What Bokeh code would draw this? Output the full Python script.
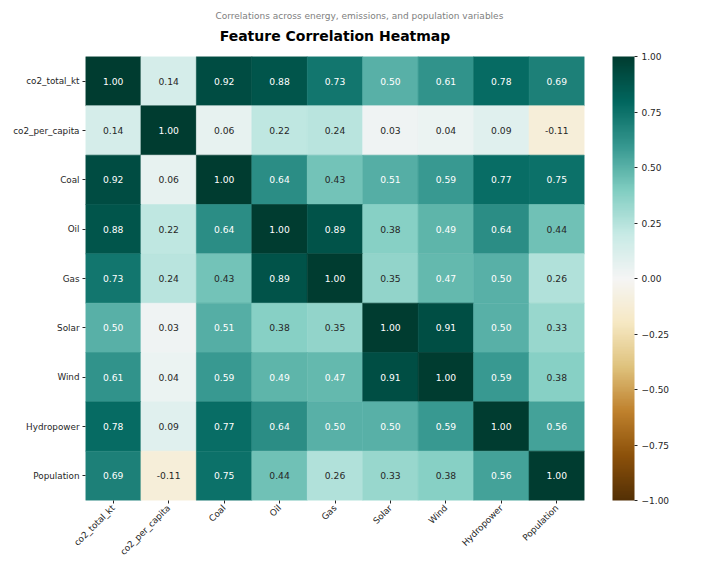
import math
from bokeh.plotting import figure
from bokeh.models import (ColumnDataSource, LinearColorMapper, ColorBar, FixedTicker,
                          CustomJSTickFormatter, Title)
from bokeh.transform import transform
from bokeh.core.properties import value
from bokeh.embed import file_html
from bokeh.resources import INLINE

# ---------------- data ----------------
features = ["co2_total_kt", "co2_per_capita", "Coal", "Oil", "Gas",
            "Solar", "Wind", "Hydropower", "Population"]

row_co2_total_kt   = [1.00, 0.14, 0.92, 0.88, 0.73, 0.50, 0.61, 0.78, 0.69]
row_co2_per_capita = [0.14, 1.00, 0.06, 0.22, 0.24, 0.03, 0.04, 0.09, -0.11]
row_coal           = [0.92, 0.06, 1.00, 0.64, 0.43, 0.51, 0.59, 0.77, 0.75]
row_oil            = [0.88, 0.22, 0.64, 1.00, 0.89, 0.38, 0.49, 0.64, 0.44]
row_gas            = [0.73, 0.24, 0.43, 0.89, 1.00, 0.35, 0.47, 0.50, 0.26]
row_solar          = [0.50, 0.03, 0.51, 0.38, 0.35, 1.00, 0.91, 0.50, 0.33]
row_wind           = [0.61, 0.04, 0.59, 0.49, 0.47, 0.91, 1.00, 0.59, 0.38]
row_hydropower     = [0.78, 0.09, 0.77, 0.64, 0.50, 0.50, 0.59, 1.00, 0.56]
row_population     = [0.69, -0.11, 0.75, 0.44, 0.26, 0.33, 0.38, 0.56, 1.00]

rows = [row_co2_total_kt, row_co2_per_capita, row_coal, row_oil, row_gas,
        row_solar, row_wind, row_hydropower, row_population]

cbar_ticks = [-1.0, -0.75, -0.5, -0.25, 0.0, 0.25, 0.5, 0.75, 1.0]

title_text = "Feature Correlation Heatmap"
subtitle_text = "Correlations across energy, emissions, and population variables"

# ---------------- colormap (BrBG, 256 steps) ----------------
brbg_anchors = ["#543005", "#8c510a", "#bf812d", "#dfc27d", "#f6e8c3", "#f5f5f5",
                "#c7eae5", "#80cdc1", "#35978f", "#01665e", "#003c30"]

def hex_to_rgb(h):
    return tuple(int(h[i:i + 2], 16) / 255.0 for i in (1, 3, 5))

anchor_rgb = [hex_to_rgb(h) for h in brbg_anchors]
N = 256
palette_rgb = []
for i in range(N):
    t = i / (N - 1) * (len(anchor_rgb) - 1)
    k = min(int(math.floor(t)), len(anchor_rgb) - 2)
    f = t - k
    c0, c1 = anchor_rgb[k], anchor_rgb[k + 1]
    palette_rgb.append(tuple(c0[j] + (c1[j] - c0[j]) * f for j in range(3)))
palette = ["#%02x%02x%02x" % tuple(int(round(c * 255)) for c in rgb) for rgb in palette_rgb]

def lum(rgb):
    def lin(c):
        return c / 12.92 if c <= 0.03928 else ((c + 0.055) / 1.055) ** 2.4
    r, g, b = (lin(c) for c in rgb)
    return 0.2126 * r + 0.7152 * g + 0.0722 * b

xs, ys, vals, labels, tcolors = [], [], [], [], []
for r_name, row in zip(features, rows):
    for c_name, v in zip(features, row):
        xs.append(c_name)
        ys.append(r_name)
        vals.append(v)
        labels.append("%.2f" % v)
        idx = int((v + 1) / 2 * N)
        idx = max(0, min(N - 1, idx))
        tcolors.append("#262626" if lum(palette_rgb[idx]) > 0.408 else "#ffffff")

source = ColumnDataSource(dict(x=xs, y=ys, v=vals, label=labels, tc=tcolors))
mapper = LinearColorMapper(palette=palette, low=-1, high=1)

FH = 444
p = figure(width=716, height=573, x_range=features, y_range=list(reversed(features)),
           output_backend="svg", toolbar_location=None, title=None,
           min_border_left=85, min_border_right=132, min_border_top=56, min_border_bottom=73)

p.rect(x="x", y="y", width=1, height=1, source=source,
       fill_color=transform("v", mapper), line_color=transform("v", mapper),
       line_width=0.6)
p.text(x="x", y="y", text="label", source=source, text_align="center",
       text_baseline="middle", text_color="tc", text_font_size="9.2px",
       text_font=value("DejaVu Sans"))

p.grid.visible = False
p.outline_line_color = None
for ax in (p.xaxis[0], p.yaxis[0]):
    ax.axis_line_color = None
    ax.major_tick_line_color = "#262626"
    ax.major_tick_in = 0
    ax.major_tick_out = 3
    ax.minor_tick_line_color = None
    ax.major_label_text_font_size = "8.8px"
    ax.major_label_text_font = "DejaVu Sans"
    ax.major_label_text_color = "#262626"
    ax.major_label_standoff = 3
p.xaxis.major_label_orientation = math.pi / 4

cbar = ColorBar(color_mapper=mapper, width=22, height=FH, padding=0, location=(28, 0),
                ticker=FixedTicker(ticks=cbar_ticks),
                formatter=CustomJSTickFormatter(code="return tick.toFixed(2).replace('-', '\u2212');"),
                major_label_text_font_size="9px", major_label_text_font="DejaVu Sans",
                major_label_text_color="#262626",
                bar_line_color=None, major_tick_line_color="#262626",
                major_tick_in=0, major_tick_out=3, minor_tick_line_color=None,
                label_standoff=4, background_fill_color=None, border_line_color=None)
p.add_layout(cbar, "right")

# spacer between plot frame and title (closest to frame)
p.add_layout(Title(text=" ", text_font_size="1px", standoff=7), "above")
p.add_layout(Title(text=title_text, align="center", text_font_size="14px",
                   text_font="DejaVu Sans", text_font_style="bold", text_color="#000000",
                   standoff=6), "above")
p.add_layout(Title(text=subtitle_text, align="left", offset=130, text_font_size="9px",
                   text_font="DejaVu Sans", text_font_style="normal", text_color="#808080",
                   standoff=4), "above")

open("out.html", "w").write(file_html(p, INLINE))
